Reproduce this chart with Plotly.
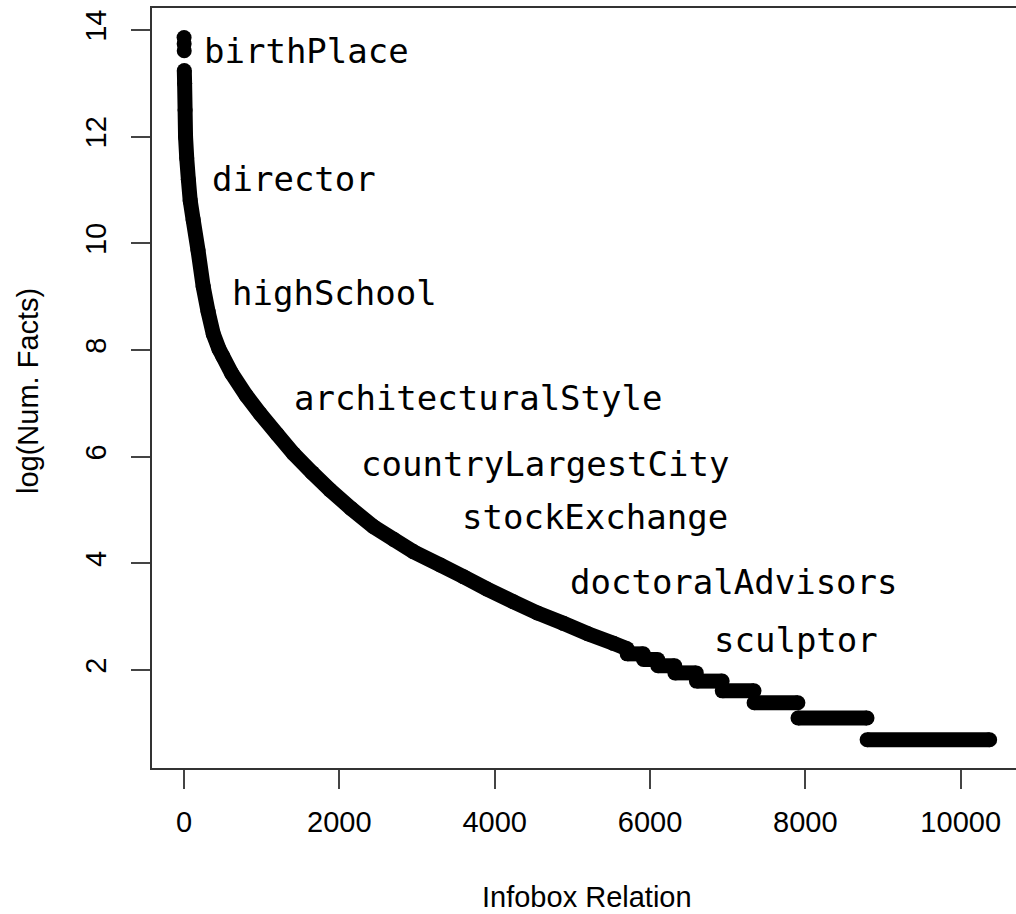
import numpy as np
import plotly.graph_objects as go

# Relations ranked by number of infobox facts (natural log of the count)
top_rank = [1, 2, 3]
top_log = [13.86, 13.74, 13.61]

curve_rank = [4, 8, 14, 20, 35, 56, 80, 118, 180, 247, 310, 377, 450, 500,
              614, 800, 979, 1200, 1408, 1650, 1880, 2150, 2438, 2700, 2953,
              3300, 3597, 3900, 4240, 4550, 4884, 5200, 5528, 5704]
curve_log = [13.24, 13.0, 12.5, 12.0, 11.6, 11.2, 10.8, 10.44, 9.875, 9.19,
             8.72, 8.3, 8.02, 7.88, 7.56, 7.15, 6.81, 6.42, 6.06, 5.7, 5.375,
             5.03, 4.69, 4.45, 4.22, 3.97, 3.75, 3.52, 3.28, 3.07, 2.875,
             2.68, 2.5, 2.40]

# Tail: runs of relations sharing the same small fact count
plateau_count = [10, 9, 8, 7, 6, 5, 4, 3, 2]
plateau_first = [5705, 5915, 6100, 6320, 6597, 6930, 7340, 7905, 8795]
plateau_last = [5914, 6099, 6319, 6596, 6929, 7339, 7904, 8794, 10373]

# Example relations written next to the curve
label_text = ["birthPlace", "director", "highSchool", "architecturalStyle",
              "countryLargestCity", "stockExchange", "doctoralAdvisors",
              "sculptor"]
label_x = [1577, 1416, 1938, 3783, 4650, 5291, 7081, 7883]
label_y = [13.71, 11.31, 9.18, 7.21, 5.97, 4.98, 3.77, 2.67]

x_ticks = [0, 2000, 4000, 6000, 8000, 10000]
y_ticks = [2, 4, 6, 8, 10, 12, 14]

DOT = 15
INK = "black"

plat_x, plat_y = [], []
for c, a, b in zip(plateau_count, plateau_first, plateau_last):
    v = float(np.log(c))
    plat_x += [a, b, None]
    plat_y += [v, v, None]

dot = dict(size=DOT, color=INK, line=dict(width=0))
band = dict(width=DOT, color=INK, simplify=False)

fig = go.Figure()
fig.add_trace(go.Scatter(x=top_rank, y=top_log, mode="markers",
                         marker=dot, hoverinfo="skip"))
fig.add_trace(go.Scatter(x=curve_rank, y=curve_log, mode="lines+markers",
                         line=band, marker=dot, hoverinfo="skip"))
fig.add_trace(go.Scatter(x=plat_x, y=plat_y, mode="lines+markers",
                         line=band, marker=dot, connectgaps=False,
                         hoverinfo="skip"))

for t, x, y in zip(label_text, label_x, label_y):
    fig.add_annotation(x=x, y=y, text=t, showarrow=False, xanchor="center",
                       yanchor="middle", yshift=-6,
                       font=dict(family="DejaVu Sans Mono", size=34, color="black"))

sans = "Liberation Sans, Arial, sans-serif"
fig.add_annotation(xref="paper", yref="paper", x=(587 - 152) / 864, y=0,
                   yanchor="middle", yshift=-129, text="Infobox Relation",
                   showarrow=False, font=dict(family=sans, size=29, color="black"))
fig.add_annotation(xref="paper", yref="paper", x=0, y=(768 - 391) / 760,
                   xanchor="center", xshift=-124, textangle=-90,
                   text="log(Num. Facts)", showarrow=False,
                   font=dict(family=sans, size=29, color="black"))

axis_common = dict(showgrid=False, zeroline=False, showline=True,
                   linecolor="#333", linewidth=2, ticks="outside", ticklen=19,
                   tickwidth=2, tickcolor="#444",
                   tickfont=dict(family=sans, size=29, color="black"))

fig.update_xaxes(range=[-412, 10712], tickvals=x_ticks,
                 ticktext=[str(v) for v in x_ticks], mirror=True,
                 ticklabelstandoff=8, **axis_common)
fig.update_yaxes(range=[0.1625, 14.4125], tickvals=y_ticks,
                 ticktext=[str(v) for v in y_ticks], tickangle=-90,
                 mirror=False, ticklabelstandoff=13, **axis_common)

fig.update_layout(width=1016, height=914, showlegend=False,
                  margin=dict(l=152, r=0, t=8, b=146),
                  paper_bgcolor="white", plot_bgcolor="white")

fig.write_html("out.html")
